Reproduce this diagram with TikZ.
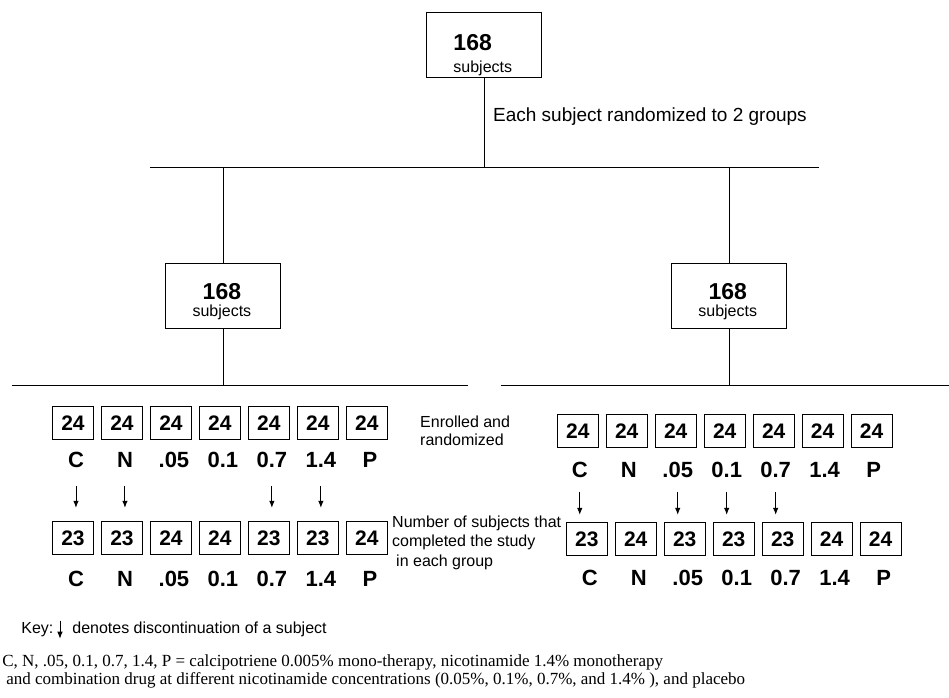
\documentclass[tikz,border=0pt]{standalone}
\usepackage{fontspec}
\setmainfont{Liberation Sans}
\newfontfamily\notefont{Liberation Serif}
\usetikzlibrary{arrows.meta}

\tikzset{
  countbox/.style={draw,line width=0.9pt,minimum width=41pt,minimum height=33pt,inner sep=0pt,text height=15pt,text depth=0pt,font=\fontsize{21}{21}\selectfont\bfseries},
  armlabel/.style={inner sep=0pt,text height=16pt,text depth=0pt,font=\fontsize{22}{22}\selectfont\bfseries},
  bigbox/.style={draw,line width=0.9pt,minimum width=115pt,minimum height=65pt,inner sep=0pt},
  plaintext/.style={inner sep=0pt,font=\fontsize{16}{18}\selectfont},
  dropout/.style={line width=0.9pt,-{Latex[length=7pt,width=5.5pt]}},
}

\begin{document}
\begin{tikzpicture}[x=1pt,y=-1pt,line width=0.8pt]
\draw[draw=none] (0,0) rectangle (949,698);
\node[bigbox] (top) at (484.5,44.5) {};
\node[plaintext,align=left] (toplbl) at (483,55) {{\fontsize{23}{23}\selectfont\bfseries 168}\\[4pt]{subjects}};
\node[plaintext,anchor=west,font=\fontsize{19}{19}\selectfont] (note) at (493,117) {Each subject randomized to 2 groups};
\coordinate (barL) at (150,167);
\coordinate (barR) at (819,167);
\draw (barL) -- (barR);
\draw (top.south) -- (top.south |- barL);
\node[bigbox] (grpA) at (223,296.5) {};
\node[bigbox] (grpB) at (729.5,296.5) {};
\node[plaintext,align=center,font=\fontsize{16}{16}\selectfont] (grpAlbl) at (222,302) {{\fontsize{23}{23}\selectfont\bfseries 168}\\[1pt]{subjects}};
\node[plaintext,align=center,font=\fontsize{16}{16}\selectfont] (grpBlbl) at (728,302) {{\fontsize{23}{23}\selectfont\bfseries 168}\\[1pt]{subjects}};
\draw (grpA.north |- barL) -- (grpA.north);
\draw (grpB.north |- barL) -- (grpB.north);
\coordinate (armAL) at (12,386);
\coordinate (armAR) at (468,386);
\coordinate (armBL) at (501,386);
\coordinate (armBR) at (949,386);
\draw (armAL) -- (armAR);
\draw (armBL) -- (armBR);
\draw (grpA.south) -- (grpA.south |- armAL);
\draw (grpB.south) -- (grpB.south |- armBL);
\foreach \lab/\nA/\nB [count=\i] in {C/23/23,N/23/24,.05/24/23,0.1/24/23,0.7/23/23,1.4/23/24,P/24/24} {
  \node[countbox] (inA-\i) at (24+49*\i,423.5) {24};
  \node[armlabel] (labA-\i) at (27+49*\i,460) {\lab};
  \node[countbox] (doneA-\i) at (24+49*\i,538.5) {\nA};
  \node[armlabel] (endA-\i) at (27+49*\i,579) {\lab};
  \node[countbox] (inB-\i) at (529+49*\i,431.5) {24};
  \node[armlabel] (labB-\i) at (531+49*\i,470) {\lab};
  \node[countbox] (doneB-\i) at (538+49*\i,539) {\nB};
  \node[armlabel] (endB-\i) at (541+49*\i,578) {\lab};
}
\coordinate (dropA1) at (0,486);
\coordinate (dropA2) at (0,508);
\coordinate (dropB1) at (0,492);
\coordinate (dropB2) at (0,515);
\foreach \i in {1,2,5,6}
  \draw[dropout] (labA-\i |- dropA1) -- (labA-\i |- dropA2);
\foreach \i in {1,3,4,5}
  \draw[dropout] (labB-\i |- dropB1) -- (labB-\i |- dropB2);
\node[plaintext,anchor=west,align=left] (enrol) at (420,431) {Enrolled and\\randomized};
\node[plaintext,anchor=west,align=left,font=\fontsize{16}{19.5}\selectfont] (compl) at (392,543) {Number of subjects that\\completed the study\\\hspace*{4pt}in each group};
\node[plaintext,anchor=west,font=\fontsize{16}{16}\selectfont] (key) at (21,630) {Key:};
\coordinate (keyA) at (60,621);
\coordinate (keyB) at (60,639);
\draw[dropout] (keyA) -- (keyB);
\node[plaintext,anchor=west,font=\fontsize{16}{16}\selectfont] (keytxt) at (72,630) {denotes discontinuation of a subject};
\node[plaintext,anchor=west,font=\notefont\fontsize{17}{17}\selectfont] (fnA) at (2,663) {C, N, .05, 0.1, 0.7, 1.4, P = calcipotriene 0.005\% mono-therapy, nicotinamide 1.4\% monotherapy};
\node[plaintext,anchor=west,font=\notefont\fontsize{17}{17}\selectfont] (fnB) at (6,681) {and combination drug at different nicotinamide concentrations (0.05\%, 0.1\%, 0.7\%, and 1.4\% ), and placebo};
\end{tikzpicture}
\end{document}
